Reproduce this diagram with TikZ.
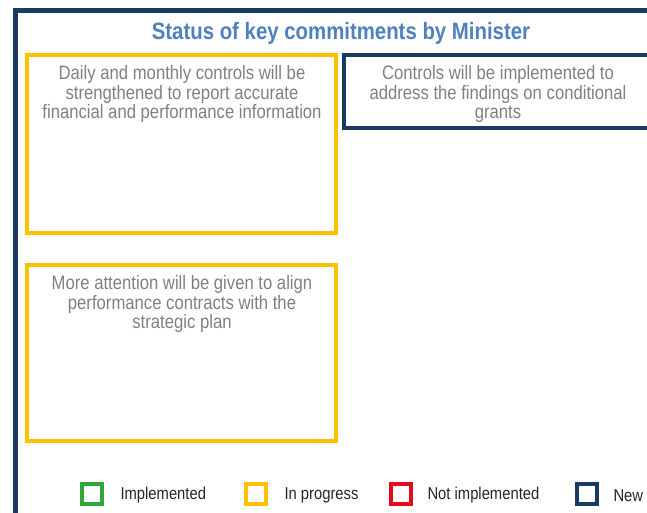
\documentclass[tikz,border=0pt]{standalone}
\usepackage{fontspec}
\setmainfont{Liberation Sans}[FakeStretch=0.86]
\definecolor{navy}{HTML}{1B3A5F}
\definecolor{ttl}{HTML}{4F81BD}
\definecolor{ylw}{HTML}{FFC000}
\definecolor{grn}{HTML}{2EA836}
\definecolor{rd}{HTML}{E30A1A}
\definecolor{txt}{HTML}{808080}
\begin{document}
\begin{tikzpicture}[x=1pt,y=-1pt,
  card/.style={draw=#1,line width=4pt},
  cardtext/.style={text=txt,font=\fontsize{19.4}{19.5}\selectfont,align=center,anchor=north},
  key/.style={draw=#1,line width=3.5pt,minimum size=20pt,inner sep=0pt},
  keylabel/.style={font=\fontsize{17.2}{19}\selectfont,text=black!85,anchor=west}]
\useasboundingbox (0,0) rectangle (647,513);
\clip (0,0) rectangle (647,513);
\draw[navy,line width=5pt] (15,540) |- (680,10.5);
\node[font=\bfseries\fontsize{23.7}{26}\selectfont,text=ttl] (title) at (341,33) {Status of key commitments by Minister};
\draw[card=ylw] (27,55) rectangle (336,233);
\node[cardtext] (t1) at (182,62) {Daily and monthly controls will be\\strengthened to report accurate\\financial and performance information};
\draw[card=navy] (344,55) rectangle (680,128);
\node[cardtext] (t2) at (498,62) {Controls will be implemented to\\address the findings on conditional\\grants};
\draw[card=ylw] (27,265) rectangle (336,441);
\node[cardtext] (t3) at (182,272) {More attention will be given to align\\performance contracts with the\\strategic plan};
\node[key=grn] (k1) at (92,494) {};
\node[keylabel] (l1) at (117,495.5) {Implemented};
\node[key=ylw] (k2) at (256,494) {};
\node[keylabel] (l2) at (281,495.5) {In progress};
\node[key=rd] (k3) at (401,494) {};
\node[keylabel] (l3) at (424,495.5) {Not implemented};
\node[key=navy] (k4) at (587,494) {};
\node[keylabel] (l4) at (610,495.5) {New};
\end{tikzpicture}
\end{document}
